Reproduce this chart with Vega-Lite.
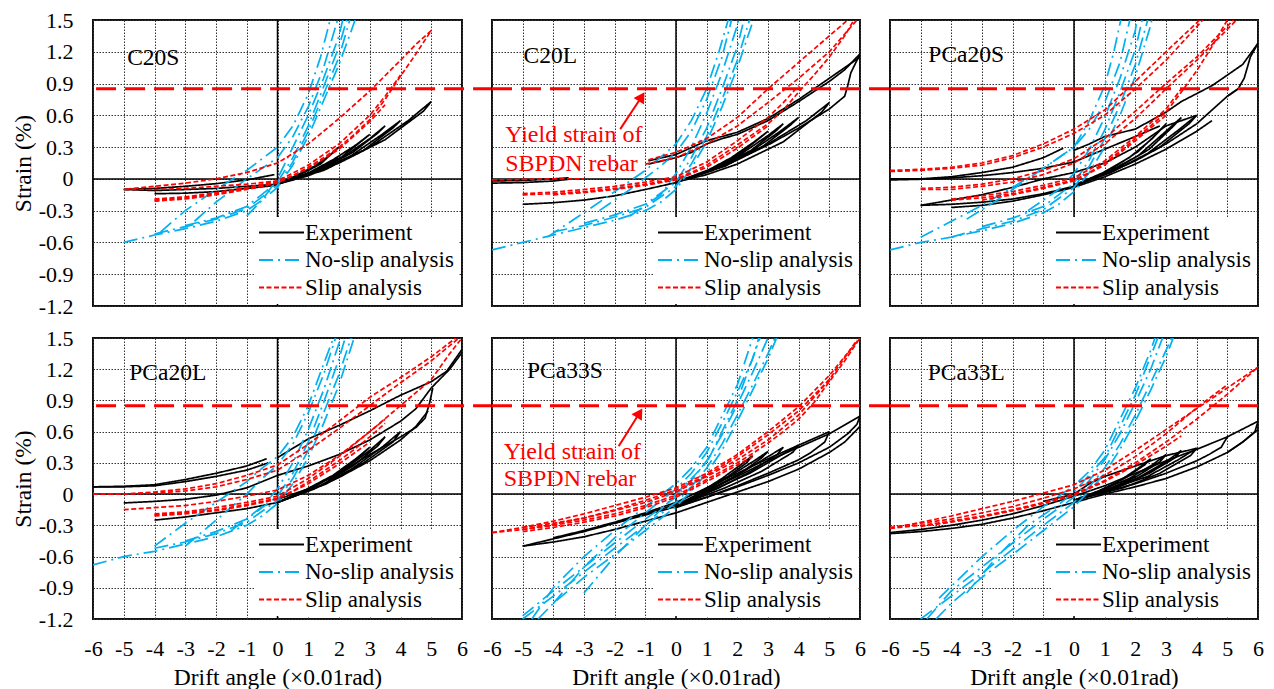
{
"$schema":"https://vega.github.io/schema/vega-lite/v6.json",
"background":"white",
"padding":{"left":10,"top":8,"right":0,"bottom":0},
"spacing":8,
"config":{
"font":"Liberation Serif",
"view":{"stroke":"#111111","strokeWidth":2},
"style":{"guide-label":{"font":"Liberation Serif"},"guide-title":{"font":"Liberation Serif"}},
"axis":{"domain":false,"ticks":false,"tickSize":0,"grid":true,"gridColor":"#333333","gridDash":[1.5,1.5],"gridWidth":1,"labelFont":"Liberation Serif","labelFontSize":22,"labelColor":"#000000","labelOverlap":false,"labelFlush":false,"titleFont":"Liberation Serif","titleFontSize":23.5,"titleFontWeight":"normal","titleColor":"#000000"},
"axisX":{"labelPadding":19,"titlePadding":6,"labelExpr":"(datum.value < 0 ? '-' : '') + format(abs(datum.value), 'd')"},
"axisY":{"labelPadding":20,"titlePadding":3,"labelExpr":"datum.value == 0 ? '0' : (datum.value < 0 ? '-' : '') + format(abs(datum.value), '.1f')"},
"legend":{"symbolType":"M-5,0H5","symbolSize":81,"symbolStrokeWidth":2,"symbolOffset":11,"labelOffset":12,"labelFont":"Liberation Serif","labelFontSize":23,"labelColor":"#000000","fillColor":"#FFFFFF","padding":4,"rowPadding":3.5,"labelLimit":220}
},
"datasets":{
"C20S":[
{"s":"E","c":1,"x":-5,"y":-0.1},{"s":"E","c":1,"x":-4,"y":-0.09},{"s":"E","c":1,"x":-3,"y":-0.07},{"s":"E","c":1,"x":-2,"y":-0.045},{"s":"E","c":1,"x":-1,"y":-0.01},{"s":"E","c":1,"x":-0.1,"y":0.04},
{"s":"E","c":2,"x":-5,"y":-0.1},{"s":"E","c":2,"x":-4,"y":-0.11},{"s":"E","c":2,"x":-3,"y":-0.1},{"s":"E","c":2,"x":-2,"y":-0.09},{"s":"E","c":2,"x":-1,"y":-0.07},{"s":"E","c":2,"x":0,"y":-0.05},
{"s":"E","c":3,"x":-4,"y":-0.14},{"s":"E","c":3,"x":-3,"y":-0.135},{"s":"E","c":3,"x":-2,"y":-0.12},{"s":"E","c":3,"x":-1,"y":-0.09},{"s":"E","c":3,"x":0,"y":-0.06},
{"s":"E","c":4,"x":0,"y":-0.05},{"s":"E","c":4,"x":1.5,"y":0.08},{"s":"E","c":4,"x":3,"y":0.3},{"s":"E","c":4,"x":4.25,"y":0.55},{"s":"E","c":4,"x":5,"y":0.73},{"s":"E","c":4,"x":4.75,"y":0.64},{"s":"E","c":4,"x":3.5,"y":0.37},{"s":"E","c":4,"x":2,"y":0.15},{"s":"E","c":4,"x":1,"y":0.03},{"s":"E","c":4,"x":0,"y":-0.05},
{"s":"E","c":5,"x":0,"y":-0.05},{"s":"E","c":5,"x":1.2,"y":0.06},{"s":"E","c":5,"x":2.4,"y":0.22},{"s":"E","c":5,"x":3.4,"y":0.42},{"s":"E","c":5,"x":4,"y":0.55},{"s":"E","c":5,"x":3.75,"y":0.48},{"s":"E","c":5,"x":2.8,"y":0.27},{"s":"E","c":5,"x":1.6,"y":0.1},{"s":"E","c":5,"x":0,"y":-0.05},
{"s":"E","c":6,"x":0,"y":-0.05},{"s":"E","c":6,"x":1,"y":0.05},{"s":"E","c":6,"x":2.1,"y":0.2},{"s":"E","c":6,"x":3,"y":0.38},{"s":"E","c":6,"x":3.5,"y":0.5},{"s":"E","c":6,"x":3.25,"y":0.43},{"s":"E","c":6,"x":2.45,"y":0.25},{"s":"E","c":6,"x":1.4,"y":0.09},{"s":"E","c":6,"x":0,"y":-0.05},
{"s":"E","c":7,"x":0,"y":-0.05},{"s":"E","c":7,"x":0.9,"y":0.04},{"s":"E","c":7,"x":1.8,"y":0.18},{"s":"E","c":7,"x":2.55,"y":0.32},{"s":"E","c":7,"x":3,"y":0.42},{"s":"E","c":7,"x":2.75,"y":0.36},{"s":"E","c":7,"x":2.1,"y":0.21},{"s":"E","c":7,"x":1.2,"y":0.08},{"s":"E","c":7,"x":0,"y":-0.05},
{"s":"E","c":8,"x":0,"y":-0.05},{"s":"E","c":8,"x":0.6,"y":0.03},{"s":"E","c":8,"x":1.2,"y":0.12},{"s":"E","c":8,"x":1.7,"y":0.22},{"s":"E","c":8,"x":2,"y":0.3},{"s":"E","c":8,"x":1.8,"y":0.25},{"s":"E","c":8,"x":1.4,"y":0.14},{"s":"E","c":8,"x":0.8,"y":0.05},{"s":"E","c":8,"x":0,"y":-0.05},
{"s":"N","c":1,"x":-5,"y":-0.6},{"s":"N","c":1,"x":-4,"y":-0.53},{"s":"N","c":1,"x":-3,"y":-0.47},{"s":"N","c":1,"x":-2,"y":-0.4},{"s":"N","c":1,"x":-1,"y":-0.3},{"s":"N","c":1,"x":-0.5,"y":-0.2},{"s":"N","c":1,"x":0,"y":-0.08},{"s":"N","c":1,"x":0.5,"y":0.13},{"s":"N","c":1,"x":1,"y":0.4},{"s":"N","c":1,"x":1.5,"y":0.74},{"s":"N","c":1,"x":2,"y":1.08},{"s":"N","c":1,"x":2.5,"y":1.48},{"s":"N","c":1,"x":2.6,"y":1.6},
{"s":"N","c":2,"x":-4,"y":-0.52},{"s":"N","c":2,"x":-3,"y":-0.45},{"s":"N","c":2,"x":-2,"y":-0.38},{"s":"N","c":2,"x":-1,"y":-0.28},{"s":"N","c":2,"x":0,"y":-0.06},{"s":"N","c":2,"x":0.5,"y":0.16},{"s":"N","c":2,"x":1,"y":0.45},{"s":"N","c":2,"x":1.5,"y":0.8},{"s":"N","c":2,"x":2,"y":1.15},{"s":"N","c":2,"x":2.45,"y":1.6},
{"s":"N","c":3,"x":-3,"y":-0.44},{"s":"N","c":3,"x":-2,"y":-0.37},{"s":"N","c":3,"x":-1,"y":-0.26},{"s":"N","c":3,"x":0,"y":-0.03},{"s":"N","c":3,"x":0.5,"y":0.2},{"s":"N","c":3,"x":1,"y":0.5},{"s":"N","c":3,"x":1.5,"y":0.87},{"s":"N","c":3,"x":2,"y":1.25},{"s":"N","c":3,"x":2.35,"y":1.6},
{"s":"N","c":4,"x":-3.8,"y":-0.5},{"s":"N","c":4,"x":-3,"y":-0.3},{"s":"N","c":4,"x":-2,"y":-0.1},{"s":"N","c":4,"x":-1,"y":0.08},{"s":"N","c":4,"x":0,"y":0.3},{"s":"N","c":4,"x":0.5,"y":0.5},{"s":"N","c":4,"x":1,"y":0.8},{"s":"N","c":4,"x":1.4,"y":1.15},{"s":"N","c":4,"x":1.8,"y":1.6},
{"s":"N","c":5,"x":-2.7,"y":-0.4},{"s":"N","c":5,"x":-2,"y":-0.22},{"s":"N","c":5,"x":-1,"y":0},{"s":"N","c":5,"x":0,"y":0.2},{"s":"N","c":5,"x":0.5,"y":0.4},{"s":"N","c":5,"x":1,"y":0.68},{"s":"N","c":5,"x":1.5,"y":1.05},{"s":"N","c":5,"x":2.05,"y":1.6},
{"s":"N","c":6,"x":-1,"y":-0.35},{"s":"N","c":6,"x":-0.5,"y":-0.2},{"s":"N","c":6,"x":0,"y":0},{"s":"N","c":6,"x":0.5,"y":0.3},{"s":"N","c":6,"x":1,"y":0.6},{"s":"N","c":6,"x":1.5,"y":0.95},{"s":"N","c":6,"x":2,"y":1.35},{"s":"N","c":6,"x":2.2,"y":1.6},
{"s":"S","c":1,"x":-4,"y":-0.2},{"s":"S","c":1,"x":-3,"y":-0.18},{"s":"S","c":1,"x":-2,"y":-0.14},{"s":"S","c":1,"x":-1,"y":-0.09},{"s":"S","c":1,"x":0,"y":-0.03},{"s":"S","c":1,"x":0.5,"y":0.03},{"s":"S","c":1,"x":1,"y":0.11},{"s":"S","c":1,"x":1.5,"y":0.2},{"s":"S","c":1,"x":2,"y":0.3},{"s":"S","c":1,"x":2.5,"y":0.42},{"s":"S","c":1,"x":3,"y":0.56},{"s":"S","c":1,"x":3.5,"y":0.75},{"s":"S","c":1,"x":4,"y":0.97},{"s":"S","c":1,"x":4.5,"y":1.18},{"s":"S","c":1,"x":5,"y":1.4},
{"s":"S","c":2,"x":-4,"y":-0.19},{"s":"S","c":2,"x":-3,"y":-0.17},{"s":"S","c":2,"x":-2,"y":-0.13},{"s":"S","c":2,"x":-1,"y":-0.08},{"s":"S","c":2,"x":0,"y":-0.02},{"s":"S","c":2,"x":1,"y":0.13},{"s":"S","c":2,"x":2,"y":0.33},{"s":"S","c":2,"x":3,"y":0.6},{"s":"S","c":2,"x":3.5,"y":0.78},{"s":"S","c":2,"x":4,"y":0.98},
{"s":"S","c":3,"x":-4,"y":-0.21},{"s":"S","c":3,"x":-3,"y":-0.19},{"s":"S","c":3,"x":-2,"y":-0.15},{"s":"S","c":3,"x":-1,"y":-0.1},{"s":"S","c":3,"x":0,"y":-0.04},{"s":"S","c":3,"x":1,"y":0.1},{"s":"S","c":3,"x":2,"y":0.28},{"s":"S","c":3,"x":3,"y":0.54},{"s":"S","c":3,"x":3.5,"y":0.7},
{"s":"S","c":4,"x":5,"y":1.4},{"s":"S","c":4,"x":4.5,"y":1.27},{"s":"S","c":4,"x":4,"y":1.12},{"s":"S","c":4,"x":3,"y":0.83},{"s":"S","c":4,"x":2,"y":0.57},{"s":"S","c":4,"x":1,"y":0.33},{"s":"S","c":4,"x":0,"y":0.15},{"s":"S","c":4,"x":-1,"y":0.06},{"s":"S","c":4,"x":-2,"y":0},{"s":"S","c":4,"x":-3,"y":-0.04},{"s":"S","c":4,"x":-4,"y":-0.07},{"s":"S","c":4,"x":-5,"y":-0.1},
{"s":"S","c":5,"x":-5,"y":-0.1},{"s":"S","c":5,"x":-4,"y":-0.1},{"s":"S","c":5,"x":-3,"y":-0.09},{"s":"S","c":5,"x":-2,"y":-0.07},{"s":"S","c":5,"x":-1,"y":-0.05},{"s":"S","c":5,"x":0,"y":-0.02}
],
"C20L":[
{"s":"E","c":1,"x":-6,"y":-0.04},{"s":"E","c":1,"x":-5,"y":-0.035},{"s":"E","c":1,"x":-4,"y":-0.02},{"s":"E","c":1,"x":-3.4,"y":0},
{"s":"E","c":2,"x":-6,"y":-0.02},{"s":"E","c":2,"x":-5,"y":-0.015},{"s":"E","c":2,"x":-4,"y":0},{"s":"E","c":2,"x":-3.5,"y":0.01},
{"s":"E","c":3,"x":-5,"y":-0.24},{"s":"E","c":3,"x":-4,"y":-0.225},{"s":"E","c":3,"x":-3,"y":-0.2},{"s":"E","c":3,"x":-2,"y":-0.16},{"s":"E","c":3,"x":-1,"y":-0.1},{"s":"E","c":3,"x":0,"y":-0.035},{"s":"E","c":3,"x":1,"y":0.06},{"s":"E","c":3,"x":2,"y":0.18},{"s":"E","c":3,"x":3,"y":0.32},{"s":"E","c":3,"x":4,"y":0.48},{"s":"E","c":3,"x":5,"y":0.66},{"s":"E","c":3,"x":5.5,"y":0.78},{"s":"E","c":3,"x":5.6,"y":0.88},{"s":"E","c":3,"x":5.7,"y":1.0},{"s":"E","c":3,"x":6,"y":1.18},
{"s":"E","c":4,"x":-0.9,"y":0.14},{"s":"E","c":4,"x":0,"y":0.2},{"s":"E","c":4,"x":0.5,"y":0.25},{"s":"E","c":4,"x":1,"y":0.33},{"s":"E","c":4,"x":1.5,"y":0.38},{"s":"E","c":4,"x":2,"y":0.42},{"s":"E","c":4,"x":3,"y":0.55},{"s":"E","c":4,"x":4,"y":0.73},{"s":"E","c":4,"x":5,"y":0.92},{"s":"E","c":4,"x":5.5,"y":1.03},{"s":"E","c":4,"x":6,"y":1.18},
{"s":"E","c":5,"x":-0.9,"y":0.17},{"s":"E","c":5,"x":0,"y":0.23},{"s":"E","c":5,"x":1,"y":0.36},{"s":"E","c":5,"x":2,"y":0.44},{"s":"E","c":5,"x":3,"y":0.57},{"s":"E","c":5,"x":4,"y":0.75},{"s":"E","c":5,"x":5,"y":0.95},{"s":"E","c":5,"x":6,"y":1.15},
{"s":"E","c":6,"x":0,"y":-0.03},{"s":"E","c":6,"x":1.5,"y":0.12},{"s":"E","c":6,"x":3,"y":0.33},{"s":"E","c":6,"x":4.25,"y":0.55},{"s":"E","c":6,"x":5,"y":0.72},{"s":"E","c":6,"x":4.75,"y":0.63},{"s":"E","c":6,"x":3.5,"y":0.35},{"s":"E","c":6,"x":2,"y":0.14},{"s":"E","c":6,"x":1,"y":0.04},{"s":"E","c":6,"x":0,"y":-0.03},
{"s":"E","c":7,"x":0,"y":-0.03},{"s":"E","c":7,"x":1.2,"y":0.08},{"s":"E","c":7,"x":2.4,"y":0.25},{"s":"E","c":7,"x":3.4,"y":0.45},{"s":"E","c":7,"x":4,"y":0.58},{"s":"E","c":7,"x":3.7,"y":0.5},{"s":"E","c":7,"x":2.8,"y":0.3},{"s":"E","c":7,"x":1.6,"y":0.12},{"s":"E","c":7,"x":0,"y":-0.03},
{"s":"E","c":8,"x":0,"y":-0.03},{"s":"E","c":8,"x":1,"y":0.07},{"s":"E","c":8,"x":2.1,"y":0.23},{"s":"E","c":8,"x":3,"y":0.41},{"s":"E","c":8,"x":3.5,"y":0.52},{"s":"E","c":8,"x":3.25,"y":0.45},{"s":"E","c":8,"x":2.45,"y":0.27},{"s":"E","c":8,"x":1.4,"y":0.11},{"s":"E","c":8,"x":0,"y":-0.03},
{"s":"E","c":9,"x":0,"y":-0.03},{"s":"E","c":9,"x":0.9,"y":0.06},{"s":"E","c":9,"x":1.8,"y":0.2},{"s":"E","c":9,"x":2.55,"y":0.35},{"s":"E","c":9,"x":3,"y":0.45},{"s":"E","c":9,"x":2.75,"y":0.39},{"s":"E","c":9,"x":2.1,"y":0.24},{"s":"E","c":9,"x":1.2,"y":0.1},{"s":"E","c":9,"x":0,"y":-0.03},
{"s":"N","c":1,"x":-6,"y":-0.67},{"s":"N","c":1,"x":-5,"y":-0.6},{"s":"N","c":1,"x":-4,"y":-0.53},{"s":"N","c":1,"x":-3,"y":-0.46},{"s":"N","c":1,"x":-2,"y":-0.39},{"s":"N","c":1,"x":-1,"y":-0.3},{"s":"N","c":1,"x":-0.5,"y":-0.22},{"s":"N","c":1,"x":0,"y":-0.1},{"s":"N","c":1,"x":0.5,"y":0.1},{"s":"N","c":1,"x":1,"y":0.35},{"s":"N","c":1,"x":1.5,"y":0.68},{"s":"N","c":1,"x":2,"y":1.05},{"s":"N","c":1,"x":2.5,"y":1.48},{"s":"N","c":1,"x":2.6,"y":1.6},
{"s":"N","c":2,"x":-4,"y":-0.5},{"s":"N","c":2,"x":-3,"y":-0.44},{"s":"N","c":2,"x":-2,"y":-0.36},{"s":"N","c":2,"x":-1,"y":-0.27},{"s":"N","c":2,"x":0,"y":-0.07},{"s":"N","c":2,"x":0.5,"y":0.14},{"s":"N","c":2,"x":1,"y":0.4},{"s":"N","c":2,"x":1.5,"y":0.75},{"s":"N","c":2,"x":2,"y":1.12},{"s":"N","c":2,"x":2.5,"y":1.6},
{"s":"N","c":3,"x":-3,"y":-0.42},{"s":"N","c":3,"x":-2,"y":-0.34},{"s":"N","c":3,"x":-1,"y":-0.24},{"s":"N","c":3,"x":0,"y":-0.03},{"s":"N","c":3,"x":0.5,"y":0.2},{"s":"N","c":3,"x":1,"y":0.48},{"s":"N","c":3,"x":1.5,"y":0.85},{"s":"N","c":3,"x":2,"y":1.25},{"s":"N","c":3,"x":2.3,"y":1.6},
{"s":"N","c":4,"x":-4.2,"y":-0.55},{"s":"N","c":4,"x":-3,"y":-0.32},{"s":"N","c":4,"x":-2,"y":-0.12},{"s":"N","c":4,"x":-1,"y":0.08},{"s":"N","c":4,"x":0,"y":0.33},{"s":"N","c":4,"x":0.5,"y":0.55},{"s":"N","c":4,"x":1,"y":0.85},{"s":"N","c":4,"x":1.4,"y":1.2},{"s":"N","c":4,"x":1.8,"y":1.6},
{"s":"N","c":5,"x":-2.5,"y":-0.3},{"s":"N","c":5,"x":-1.5,"y":-0.1},{"s":"N","c":5,"x":-0.5,"y":0.12},{"s":"N","c":5,"x":0,"y":0.25},{"s":"N","c":5,"x":0.5,"y":0.45},{"s":"N","c":5,"x":1,"y":0.75},{"s":"N","c":5,"x":1.5,"y":1.15},{"s":"N","c":5,"x":1.9,"y":1.6},
{"s":"N","c":6,"x":-1.5,"y":-0.35},{"s":"N","c":6,"x":-0.5,"y":-0.15},{"s":"N","c":6,"x":0,"y":0.05},{"s":"N","c":6,"x":0.5,"y":0.3},{"s":"N","c":6,"x":1,"y":0.62},{"s":"N","c":6,"x":1.5,"y":1.0},{"s":"N","c":6,"x":2,"y":1.45},{"s":"N","c":6,"x":2.1,"y":1.6},
{"s":"S","c":1,"x":-5,"y":-0.15},{"s":"S","c":1,"x":-4,"y":-0.14},{"s":"S","c":1,"x":-3,"y":-0.12},{"s":"S","c":1,"x":-2,"y":-0.09},{"s":"S","c":1,"x":-1,"y":-0.05},{"s":"S","c":1,"x":0,"y":0},{"s":"S","c":1,"x":0.5,"y":0.06},{"s":"S","c":1,"x":1,"y":0.13},{"s":"S","c":1,"x":2,"y":0.32},{"s":"S","c":1,"x":3,"y":0.52},{"s":"S","c":1,"x":3.5,"y":0.65},{"s":"S","c":1,"x":4,"y":0.82},{"s":"S","c":1,"x":4.5,"y":0.98},{"s":"S","c":1,"x":5,"y":1.15},{"s":"S","c":1,"x":5.5,"y":1.35},{"s":"S","c":1,"x":5.8,"y":1.5},
{"s":"S","c":2,"x":-5,"y":-0.14},{"s":"S","c":2,"x":-4,"y":-0.125},{"s":"S","c":2,"x":-3,"y":-0.1},{"s":"S","c":2,"x":-2,"y":-0.07},{"s":"S","c":2,"x":-1,"y":-0.03},{"s":"S","c":2,"x":0,"y":0.02},{"s":"S","c":2,"x":1,"y":0.16},{"s":"S","c":2,"x":2,"y":0.36},{"s":"S","c":2,"x":3,"y":0.58},{"s":"S","c":2,"x":3.5,"y":0.72},{"s":"S","c":2,"x":4,"y":0.88},
{"s":"S","c":3,"x":-4,"y":-0.15},{"s":"S","c":3,"x":-3,"y":-0.13},{"s":"S","c":3,"x":-2,"y":-0.1},{"s":"S","c":3,"x":-1,"y":-0.06},{"s":"S","c":3,"x":0,"y":-0.01},{"s":"S","c":3,"x":1,"y":0.11},{"s":"S","c":3,"x":2,"y":0.29},{"s":"S","c":3,"x":3,"y":0.5},
{"s":"S","c":4,"x":-0.9,"y":0.18},{"s":"S","c":4,"x":0,"y":0.25},{"s":"S","c":4,"x":1,"y":0.38},{"s":"S","c":4,"x":2,"y":0.58},{"s":"S","c":4,"x":3,"y":0.85},{"s":"S","c":4,"x":4,"y":1.1},{"s":"S","c":4,"x":5,"y":1.35},{"s":"S","c":4,"x":5.6,"y":1.5},
{"s":"S","c":5,"x":-1,"y":0.14},{"s":"S","c":5,"x":0,"y":0.2},{"s":"S","c":5,"x":1,"y":0.33},{"s":"S","c":5,"x":2,"y":0.5},{"s":"S","c":5,"x":3,"y":0.72},{"s":"S","c":5,"x":4,"y":0.95},{"s":"S","c":5,"x":5,"y":1.2},{"s":"S","c":5,"x":5.9,"y":1.5},
{"s":"S","c":6,"x":-6,"y":-0.01},{"s":"S","c":6,"x":-5,"y":-0.005},{"s":"S","c":6,"x":-4,"y":0},{"s":"S","c":6,"x":-3,"y":0}
],
"PCa20S":[
{"s":"E","c":1,"x":-6,"y":0},{"s":"E","c":1,"x":-5,"y":0},{"s":"E","c":1,"x":-4,"y":0.02},{"s":"E","c":1,"x":-3,"y":0.06},{"s":"E","c":1,"x":-2,"y":0.11},{"s":"E","c":1,"x":-1,"y":0.2},{"s":"E","c":1,"x":-0.35,"y":0.29},
{"s":"E","c":2,"x":-6,"y":-0.01},{"s":"E","c":2,"x":-4.5,"y":0},{"s":"E","c":2,"x":-3,"y":0.03},{"s":"E","c":2,"x":-2,"y":0.06},{"s":"E","c":2,"x":-1,"y":0.1},{"s":"E","c":2,"x":0,"y":0.16},{"s":"E","c":2,"x":1,"y":0.28},{"s":"E","c":2,"x":2,"y":0.4},{"s":"E","c":2,"x":2.8,"y":0.5},
{"s":"E","c":3,"x":0,"y":0.27},{"s":"E","c":3,"x":0.5,"y":0.33},{"s":"E","c":3,"x":1,"y":0.4},{"s":"E","c":3,"x":2,"y":0.47},{"s":"E","c":3,"x":3,"y":0.63},{"s":"E","c":3,"x":3.5,"y":0.73},{"s":"E","c":3,"x":4.5,"y":0.88},{"s":"E","c":3,"x":5.5,"y":1.08},{"s":"E","c":3,"x":6,"y":1.28},
{"s":"E","c":4,"x":6,"y":1.28},{"s":"E","c":4,"x":5.75,"y":1.15},{"s":"E","c":4,"x":5.55,"y":0.95},{"s":"E","c":4,"x":5.35,"y":0.85},{"s":"E","c":4,"x":5,"y":0.78},
{"s":"E","c":5,"x":-5,"y":-0.25},{"s":"E","c":5,"x":-4,"y":-0.24},{"s":"E","c":5,"x":-3,"y":-0.22},{"s":"E","c":5,"x":-2,"y":-0.19},{"s":"E","c":5,"x":-1,"y":-0.14},{"s":"E","c":5,"x":0,"y":-0.07},{"s":"E","c":5,"x":1,"y":0.04},{"s":"E","c":5,"x":2,"y":0.17},{"s":"E","c":5,"x":3,"y":0.33},{"s":"E","c":5,"x":4,"y":0.52},{"s":"E","c":5,"x":5,"y":0.78},{"s":"E","c":5,"x":5.35,"y":0.85},
{"s":"E","c":6,"x":-4,"y":-0.27},{"s":"E","c":6,"x":-3,"y":-0.25},{"s":"E","c":6,"x":-2,"y":-0.21},{"s":"E","c":6,"x":-1,"y":-0.15},{"s":"E","c":6,"x":0,"y":-0.08},{"s":"E","c":6,"x":1,"y":0.02},{"s":"E","c":6,"x":2,"y":0.14},{"s":"E","c":6,"x":3,"y":0.28},{"s":"E","c":6,"x":4,"y":0.45},{"s":"E","c":6,"x":4.5,"y":0.55},
{"s":"E","c":7,"x":-5,"y":-0.25},{"s":"E","c":7,"x":-4,"y":-0.2},{"s":"E","c":7,"x":-3,"y":-0.15},{"s":"E","c":7,"x":-2,"y":-0.08},{"s":"E","c":7,"x":-1,"y":0},{"s":"E","c":7,"x":0,"y":0.06},{"s":"E","c":7,"x":1,"y":0.15},{"s":"E","c":7,"x":2,"y":0.3},{"s":"E","c":7,"x":3,"y":0.5},{"s":"E","c":7,"x":4,"y":0.6},
{"s":"E","c":8,"x":0,"y":-0.06},{"s":"E","c":8,"x":1.2,"y":0.06},{"s":"E","c":8,"x":2.4,"y":0.24},{"s":"E","c":8,"x":3.4,"y":0.46},{"s":"E","c":8,"x":4,"y":0.6},{"s":"E","c":8,"x":3.75,"y":0.52},{"s":"E","c":8,"x":2.8,"y":0.3},{"s":"E","c":8,"x":1.6,"y":0.12},{"s":"E","c":8,"x":0,"y":-0.06},
{"s":"E","c":9,"x":0,"y":-0.06},{"s":"E","c":9,"x":1,"y":0.05},{"s":"E","c":9,"x":2.1,"y":0.22},{"s":"E","c":9,"x":3,"y":0.45},{"s":"E","c":9,"x":3.5,"y":0.58},{"s":"E","c":9,"x":3.25,"y":0.5},{"s":"E","c":9,"x":2.45,"y":0.28},{"s":"E","c":9,"x":1.4,"y":0.1},{"s":"E","c":9,"x":0,"y":-0.06},
{"s":"E","c":10,"x":0,"y":-0.06},{"s":"E","c":10,"x":0.9,"y":0.05},{"s":"E","c":10,"x":1.8,"y":0.2},{"s":"E","c":10,"x":2.55,"y":0.38},{"s":"E","c":10,"x":3,"y":0.52},{"s":"E","c":10,"x":2.75,"y":0.44},{"s":"E","c":10,"x":2.1,"y":0.26},{"s":"E","c":10,"x":1.2,"y":0.09},{"s":"E","c":10,"x":0,"y":-0.06},
{"s":"N","c":1,"x":-6,"y":-0.67},{"s":"N","c":1,"x":-5,"y":-0.6},{"s":"N","c":1,"x":-4,"y":-0.55},{"s":"N","c":1,"x":-3,"y":-0.49},{"s":"N","c":1,"x":-2,"y":-0.42},{"s":"N","c":1,"x":-1,"y":-0.32},{"s":"N","c":1,"x":-0.5,"y":-0.24},{"s":"N","c":1,"x":0,"y":-0.12},{"s":"N","c":1,"x":0.5,"y":0.06},{"s":"N","c":1,"x":1,"y":0.3},{"s":"N","c":1,"x":1.5,"y":0.6},{"s":"N","c":1,"x":2,"y":0.97},{"s":"N","c":1,"x":2.5,"y":1.45},{"s":"N","c":1,"x":2.6,"y":1.6},
{"s":"N","c":2,"x":-4,"y":-0.55},{"s":"N","c":2,"x":-3,"y":-0.47},{"s":"N","c":2,"x":-2,"y":-0.4},{"s":"N","c":2,"x":-1,"y":-0.29},{"s":"N","c":2,"x":0,"y":-0.08},{"s":"N","c":2,"x":0.5,"y":0.12},{"s":"N","c":2,"x":1,"y":0.38},{"s":"N","c":2,"x":1.5,"y":0.7},{"s":"N","c":2,"x":2,"y":1.08},{"s":"N","c":2,"x":2.5,"y":1.6},
{"s":"N","c":3,"x":-3,"y":-0.45},{"s":"N","c":3,"x":-2,"y":-0.37},{"s":"N","c":3,"x":-1,"y":-0.26},{"s":"N","c":3,"x":0,"y":-0.04},{"s":"N","c":3,"x":0.5,"y":0.18},{"s":"N","c":3,"x":1,"y":0.46},{"s":"N","c":3,"x":1.5,"y":0.82},{"s":"N","c":3,"x":2,"y":1.22},{"s":"N","c":3,"x":2.3,"y":1.6},
{"s":"N","c":4,"x":-5,"y":-0.55},{"s":"N","c":4,"x":-4,"y":-0.4},{"s":"N","c":4,"x":-3,"y":-0.25},{"s":"N","c":4,"x":-2,"y":-0.08},{"s":"N","c":4,"x":-1,"y":0.1},{"s":"N","c":4,"x":0,"y":0.3},{"s":"N","c":4,"x":0.5,"y":0.47},{"s":"N","c":4,"x":1,"y":0.72},{"s":"N","c":4,"x":1.5,"y":1.1},{"s":"N","c":4,"x":1.9,"y":1.6},
{"s":"N","c":5,"x":-3.5,"y":-0.38},{"s":"N","c":5,"x":-2.5,"y":-0.2},{"s":"N","c":5,"x":-1.5,"y":0},{"s":"N","c":5,"x":-0.5,"y":0.2},{"s":"N","c":5,"x":0,"y":0.3},{"s":"N","c":5,"x":0.5,"y":0.55},{"s":"N","c":5,"x":1,"y":0.88},{"s":"N","c":5,"x":1.3,"y":1.2},{"s":"N","c":5,"x":1.6,"y":1.6},
{"s":"N","c":6,"x":-1.5,"y":-0.3},{"s":"N","c":6,"x":-0.5,"y":-0.1},{"s":"N","c":6,"x":0,"y":0.05},{"s":"N","c":6,"x":0.5,"y":0.28},{"s":"N","c":6,"x":1,"y":0.58},{"s":"N","c":6,"x":1.5,"y":0.95},{"s":"N","c":6,"x":2,"y":1.4},{"s":"N","c":6,"x":2.1,"y":1.6},
{"s":"S","c":1,"x":-6,"y":0.08},{"s":"S","c":1,"x":-5,"y":0.09},{"s":"S","c":1,"x":-4,"y":0.11},{"s":"S","c":1,"x":-3,"y":0.15},{"s":"S","c":1,"x":-2,"y":0.22},{"s":"S","c":1,"x":-1,"y":0.33},{"s":"S","c":1,"x":0,"y":0.47},{"s":"S","c":1,"x":1,"y":0.65},{"s":"S","c":1,"x":2,"y":0.92},{"s":"S","c":1,"x":3,"y":1.2},{"s":"S","c":1,"x":4.1,"y":1.5},
{"s":"S","c":2,"x":-6,"y":0.07},{"s":"S","c":2,"x":-5,"y":0.08},{"s":"S","c":2,"x":-4,"y":0.1},{"s":"S","c":2,"x":-3,"y":0.13},{"s":"S","c":2,"x":-2,"y":0.2},{"s":"S","c":2,"x":-1,"y":0.3},{"s":"S","c":2,"x":0,"y":0.43},{"s":"S","c":2,"x":1,"y":0.6},{"s":"S","c":2,"x":2,"y":0.85},{"s":"S","c":2,"x":3,"y":1.12},{"s":"S","c":2,"x":4.2,"y":1.5},
{"s":"S","c":3,"x":-5,"y":-0.09},{"s":"S","c":3,"x":-4,"y":-0.08},{"s":"S","c":3,"x":-3,"y":-0.05},{"s":"S","c":3,"x":-2,"y":0},{"s":"S","c":3,"x":-1,"y":0.08},{"s":"S","c":3,"x":0,"y":0.19},{"s":"S","c":3,"x":1,"y":0.38},{"s":"S","c":3,"x":2,"y":0.64},{"s":"S","c":3,"x":3,"y":0.9},{"s":"S","c":3,"x":4,"y":1.15},{"s":"S","c":3,"x":5.2,"y":1.5},
{"s":"S","c":4,"x":-5,"y":-0.1},{"s":"S","c":4,"x":-4,"y":-0.1},{"s":"S","c":4,"x":-3,"y":-0.07},{"s":"S","c":4,"x":-2,"y":-0.03},{"s":"S","c":4,"x":-1,"y":0.04},{"s":"S","c":4,"x":0,"y":0.15},{"s":"S","c":4,"x":1,"y":0.33},{"s":"S","c":4,"x":2,"y":0.57},{"s":"S","c":4,"x":3,"y":0.85},{"s":"S","c":4,"x":4,"y":1.12},{"s":"S","c":4,"x":5.3,"y":1.5},
{"s":"S","c":5,"x":-4,"y":-0.2},{"s":"S","c":5,"x":-3,"y":-0.18},{"s":"S","c":5,"x":-2,"y":-0.14},{"s":"S","c":5,"x":-1,"y":-0.08},{"s":"S","c":5,"x":0,"y":-0.01},{"s":"S","c":5,"x":0.5,"y":0.06},{"s":"S","c":5,"x":1,"y":0.15},{"s":"S","c":5,"x":1.5,"y":0.26},{"s":"S","c":5,"x":2,"y":0.38},{"s":"S","c":5,"x":2.5,"y":0.5},{"s":"S","c":5,"x":3,"y":0.63},{"s":"S","c":5,"x":3.5,"y":0.82},{"s":"S","c":5,"x":4,"y":1.02},{"s":"S","c":5,"x":4.5,"y":1.25},{"s":"S","c":5,"x":5,"y":1.5},
{"s":"S","c":6,"x":-4,"y":-0.19},{"s":"S","c":6,"x":-3,"y":-0.16},{"s":"S","c":6,"x":-2,"y":-0.12},{"s":"S","c":6,"x":-1,"y":-0.06},{"s":"S","c":6,"x":0,"y":0.01},{"s":"S","c":6,"x":1,"y":0.17},{"s":"S","c":6,"x":2,"y":0.4},{"s":"S","c":6,"x":3,"y":0.66},{"s":"S","c":6,"x":3.5,"y":0.85},
{"s":"S","c":7,"x":-3,"y":-0.2},{"s":"S","c":7,"x":-2,"y":-0.15},{"s":"S","c":7,"x":-1,"y":-0.09},{"s":"S","c":7,"x":0,"y":-0.02},{"s":"S","c":7,"x":1,"y":0.13},{"s":"S","c":7,"x":2,"y":0.36},{"s":"S","c":7,"x":3,"y":0.6}
],
"PCa20L":[
{"s":"E","c":1,"x":-6,"y":0.07},{"s":"E","c":1,"x":-5,"y":0.075},{"s":"E","c":1,"x":-4,"y":0.09},{"s":"E","c":1,"x":-3,"y":0.14},{"s":"E","c":1,"x":-2,"y":0.2},{"s":"E","c":1,"x":-1,"y":0.27},{"s":"E","c":1,"x":-0.35,"y":0.34},
{"s":"E","c":2,"x":-6,"y":0.07},{"s":"E","c":2,"x":-5,"y":0.07},{"s":"E","c":2,"x":-4,"y":0.08},{"s":"E","c":2,"x":-3,"y":0.12},{"s":"E","c":2,"x":-2,"y":0.17},{"s":"E","c":2,"x":-1,"y":0.23},{"s":"E","c":2,"x":-0.3,"y":0.3},
{"s":"E","c":3,"x":0,"y":0.35},{"s":"E","c":3,"x":0.5,"y":0.44},{"s":"E","c":3,"x":1,"y":0.53},{"s":"E","c":3,"x":2,"y":0.66},{"s":"E","c":3,"x":3,"y":0.8},{"s":"E","c":3,"x":4,"y":0.95},{"s":"E","c":3,"x":5,"y":1.08},{"s":"E","c":3,"x":5.5,"y":1.18},{"s":"E","c":3,"x":6,"y":1.39},
{"s":"E","c":4,"x":6,"y":1.36},{"s":"E","c":4,"x":5.6,"y":1.2},{"s":"E","c":4,"x":5.2,"y":1.08},{"s":"E","c":4,"x":5,"y":1.02},
{"s":"E","c":5,"x":-5,"y":-0.085},{"s":"E","c":5,"x":-4,"y":-0.07},{"s":"E","c":5,"x":-3,"y":-0.05},{"s":"E","c":5,"x":-2,"y":-0.01},{"s":"E","c":5,"x":-1,"y":0.06},{"s":"E","c":5,"x":0,"y":0.18},{"s":"E","c":5,"x":1,"y":0.27},{"s":"E","c":5,"x":2,"y":0.38},{"s":"E","c":5,"x":3,"y":0.52},{"s":"E","c":5,"x":4,"y":0.7},{"s":"E","c":5,"x":4.5,"y":0.82},{"s":"E","c":5,"x":5,"y":1.02},
{"s":"E","c":6,"x":5.05,"y":1.02},{"s":"E","c":6,"x":4.95,"y":0.88},{"s":"E","c":6,"x":4.8,"y":0.73},{"s":"E","c":6,"x":4.5,"y":0.64},{"s":"E","c":6,"x":4,"y":0.55},{"s":"E","c":6,"x":3,"y":0.38},{"s":"E","c":6,"x":2,"y":0.2},{"s":"E","c":6,"x":1,"y":0.05},{"s":"E","c":6,"x":0,"y":-0.05},
{"s":"E","c":7,"x":-4,"y":-0.25},{"s":"E","c":7,"x":-3,"y":-0.22},{"s":"E","c":7,"x":-2,"y":-0.18},{"s":"E","c":7,"x":-1,"y":-0.14},{"s":"E","c":7,"x":0,"y":-0.08},{"s":"E","c":7,"x":1,"y":0.03},{"s":"E","c":7,"x":2,"y":0.16},{"s":"E","c":7,"x":3,"y":0.32},{"s":"E","c":7,"x":4,"y":0.52},{"s":"E","c":7,"x":4.5,"y":0.65},{"s":"E","c":7,"x":4.9,"y":0.8},
{"s":"E","c":8,"x":0,"y":-0.08},{"s":"E","c":8,"x":1.2,"y":0.05},{"s":"E","c":8,"x":2.4,"y":0.24},{"s":"E","c":8,"x":3.4,"y":0.45},{"s":"E","c":8,"x":4,"y":0.6},{"s":"E","c":8,"x":3.75,"y":0.5},{"s":"E","c":8,"x":2.8,"y":0.3},{"s":"E","c":8,"x":1.6,"y":0.1},{"s":"E","c":8,"x":0,"y":-0.08},
{"s":"E","c":9,"x":0,"y":-0.08},{"s":"E","c":9,"x":1,"y":0.04},{"s":"E","c":9,"x":2.1,"y":0.22},{"s":"E","c":9,"x":3,"y":0.42},{"s":"E","c":9,"x":3.5,"y":0.55},{"s":"E","c":9,"x":3.25,"y":0.46},{"s":"E","c":9,"x":2.45,"y":0.27},{"s":"E","c":9,"x":1.4,"y":0.08},{"s":"E","c":9,"x":0,"y":-0.08},
{"s":"E","c":10,"x":0,"y":-0.08},{"s":"E","c":10,"x":0.9,"y":0.04},{"s":"E","c":10,"x":1.8,"y":0.18},{"s":"E","c":10,"x":2.55,"y":0.34},{"s":"E","c":10,"x":3,"y":0.45},{"s":"E","c":10,"x":2.75,"y":0.38},{"s":"E","c":10,"x":2.1,"y":0.23},{"s":"E","c":10,"x":1.2,"y":0.07},{"s":"E","c":10,"x":0,"y":-0.08},
{"s":"N","c":1,"x":-6,"y":-0.68},{"s":"N","c":1,"x":-5,"y":-0.6},{"s":"N","c":1,"x":-4,"y":-0.55},{"s":"N","c":1,"x":-3,"y":-0.48},{"s":"N","c":1,"x":-2,"y":-0.41},{"s":"N","c":1,"x":-1,"y":-0.3},{"s":"N","c":1,"x":-0.5,"y":-0.21},{"s":"N","c":1,"x":0,"y":-0.09},{"s":"N","c":1,"x":0.5,"y":0.1},{"s":"N","c":1,"x":1,"y":0.35},{"s":"N","c":1,"x":1.5,"y":0.68},{"s":"N","c":1,"x":2,"y":1.05},{"s":"N","c":1,"x":2.6,"y":1.6},
{"s":"N","c":2,"x":-4,"y":-0.52},{"s":"N","c":2,"x":-3,"y":-0.46},{"s":"N","c":2,"x":-2,"y":-0.38},{"s":"N","c":2,"x":-1,"y":-0.27},{"s":"N","c":2,"x":0,"y":-0.06},{"s":"N","c":2,"x":0.5,"y":0.15},{"s":"N","c":2,"x":1,"y":0.42},{"s":"N","c":2,"x":1.5,"y":0.78},{"s":"N","c":2,"x":2,"y":1.15},{"s":"N","c":2,"x":2.5,"y":1.6},
{"s":"N","c":3,"x":-3,"y":-0.45},{"s":"N","c":3,"x":-2,"y":-0.36},{"s":"N","c":3,"x":-1,"y":-0.24},{"s":"N","c":3,"x":0,"y":-0.02},{"s":"N","c":3,"x":0.5,"y":0.2},{"s":"N","c":3,"x":1,"y":0.5},{"s":"N","c":3,"x":1.5,"y":0.88},{"s":"N","c":3,"x":2,"y":1.3},{"s":"N","c":3,"x":2.3,"y":1.6},
{"s":"N","c":4,"x":-4,"y":-0.5},{"s":"N","c":4,"x":-3,"y":-0.28},{"s":"N","c":4,"x":-2,"y":-0.08},{"s":"N","c":4,"x":-1,"y":0.12},{"s":"N","c":4,"x":-0.5,"y":0.25},{"s":"N","c":4,"x":0,"y":0.36},{"s":"N","c":4,"x":0.5,"y":0.55},{"s":"N","c":4,"x":1,"y":0.85},{"s":"N","c":4,"x":1.5,"y":1.25},{"s":"N","c":4,"x":1.95,"y":1.6},
{"s":"N","c":5,"x":-3,"y":-0.5},{"s":"N","c":5,"x":-2,"y":-0.25},{"s":"N","c":5,"x":-1,"y":0},{"s":"N","c":5,"x":-0.5,"y":0.15},{"s":"N","c":5,"x":0,"y":0.28},{"s":"N","c":5,"x":0.5,"y":0.48},{"s":"N","c":5,"x":1,"y":0.78},{"s":"N","c":5,"x":1.5,"y":1.15},{"s":"N","c":5,"x":2,"y":1.6},
{"s":"N","c":6,"x":-1.5,"y":-0.35},{"s":"N","c":6,"x":-0.5,"y":-0.12},{"s":"N","c":6,"x":0,"y":0.05},{"s":"N","c":6,"x":0.5,"y":0.3},{"s":"N","c":6,"x":1,"y":0.62},{"s":"N","c":6,"x":1.5,"y":1.0},{"s":"N","c":6,"x":2,"y":1.45},{"s":"N","c":6,"x":2.15,"y":1.6},
{"s":"S","c":1,"x":-6,"y":0},{"s":"S","c":1,"x":-5,"y":0},{"s":"S","c":1,"x":-4,"y":0.02},{"s":"S","c":1,"x":-3,"y":0.05},{"s":"S","c":1,"x":-2,"y":0.1},{"s":"S","c":1,"x":-1,"y":0.18},{"s":"S","c":1,"x":0,"y":0.28},{"s":"S","c":1,"x":1,"y":0.48},{"s":"S","c":1,"x":2,"y":0.7},{"s":"S","c":1,"x":3,"y":0.93},{"s":"S","c":1,"x":4,"y":1.12},{"s":"S","c":1,"x":5,"y":1.32},{"s":"S","c":1,"x":5.8,"y":1.5},
{"s":"S","c":2,"x":-6,"y":0},{"s":"S","c":2,"x":-5,"y":0},{"s":"S","c":2,"x":-4,"y":0.01},{"s":"S","c":2,"x":-3,"y":0.03},{"s":"S","c":2,"x":-2,"y":0.07},{"s":"S","c":2,"x":-1,"y":0.14},{"s":"S","c":2,"x":0,"y":0.23},{"s":"S","c":2,"x":1,"y":0.42},{"s":"S","c":2,"x":2,"y":0.63},{"s":"S","c":2,"x":3,"y":0.85},{"s":"S","c":2,"x":4,"y":1.07},{"s":"S","c":2,"x":5,"y":1.28},{"s":"S","c":2,"x":5.9,"y":1.5},
{"s":"S","c":3,"x":-5,"y":-0.15},{"s":"S","c":3,"x":-4,"y":-0.13},{"s":"S","c":3,"x":-3,"y":-0.11},{"s":"S","c":3,"x":-2,"y":-0.07},{"s":"S","c":3,"x":-1,"y":-0.02},{"s":"S","c":3,"x":0,"y":0.04},{"s":"S","c":3,"x":1,"y":0.18},{"s":"S","c":3,"x":2,"y":0.37},{"s":"S","c":3,"x":3,"y":0.6},{"s":"S","c":3,"x":4,"y":0.85},{"s":"S","c":3,"x":5,"y":1.1},{"s":"S","c":3,"x":5.6,"y":1.35},{"s":"S","c":3,"x":6,"y":1.5},
{"s":"S","c":4,"x":-4,"y":-0.2},{"s":"S","c":4,"x":-3,"y":-0.18},{"s":"S","c":4,"x":-2,"y":-0.15},{"s":"S","c":4,"x":-1,"y":-0.1},{"s":"S","c":4,"x":0,"y":-0.04},{"s":"S","c":4,"x":0.5,"y":0.03},{"s":"S","c":4,"x":1,"y":0.12},{"s":"S","c":4,"x":1.5,"y":0.22},{"s":"S","c":4,"x":2,"y":0.32},{"s":"S","c":4,"x":2.5,"y":0.43},{"s":"S","c":4,"x":3,"y":0.55},{"s":"S","c":4,"x":3.5,"y":0.68},
{"s":"S","c":5,"x":-4,"y":-0.19},{"s":"S","c":5,"x":-3,"y":-0.17},{"s":"S","c":5,"x":-2,"y":-0.13},{"s":"S","c":5,"x":-1,"y":-0.08},{"s":"S","c":5,"x":0,"y":-0.02},{"s":"S","c":5,"x":1,"y":0.15},{"s":"S","c":5,"x":2,"y":0.36},{"s":"S","c":5,"x":3,"y":0.6},{"s":"S","c":5,"x":3.5,"y":0.72},
{"s":"S","c":6,"x":-4,"y":-0.21},{"s":"S","c":6,"x":-3,"y":-0.19},{"s":"S","c":6,"x":-2,"y":-0.16},{"s":"S","c":6,"x":-1,"y":-0.11},{"s":"S","c":6,"x":0,"y":-0.05},{"s":"S","c":6,"x":1,"y":0.1},{"s":"S","c":6,"x":2,"y":0.29},{"s":"S","c":6,"x":3,"y":0.5}
],
"PCa33S":[
{"s":"E","c":1,"x":-5,"y":-0.5},{"s":"E","c":1,"x":-4,"y":-0.46},{"s":"E","c":1,"x":-3,"y":-0.41},{"s":"E","c":1,"x":-2,"y":-0.34},{"s":"E","c":1,"x":-1,"y":-0.26},{"s":"E","c":1,"x":0,"y":-0.18},{"s":"E","c":1,"x":1,"y":-0.08},{"s":"E","c":1,"x":2,"y":0.02},{"s":"E","c":1,"x":3,"y":0.12},{"s":"E","c":1,"x":4,"y":0.24},{"s":"E","c":1,"x":5,"y":0.4},{"s":"E","c":1,"x":5.5,"y":0.5},{"s":"E","c":1,"x":6,"y":0.65},
{"s":"E","c":2,"x":-5,"y":-0.5},{"s":"E","c":2,"x":-4,"y":-0.43},{"s":"E","c":2,"x":-3,"y":-0.36},{"s":"E","c":2,"x":-2,"y":-0.28},{"s":"E","c":2,"x":-1,"y":-0.19},{"s":"E","c":2,"x":0,"y":-0.1},{"s":"E","c":2,"x":1,"y":0.03},{"s":"E","c":2,"x":2,"y":0.17},{"s":"E","c":2,"x":3,"y":0.32},{"s":"E","c":2,"x":4,"y":0.45},{"s":"E","c":2,"x":5,"y":0.58},{"s":"E","c":2,"x":6,"y":0.75},
{"s":"E","c":3,"x":6,"y":0.75},{"s":"E","c":3,"x":5.9,"y":0.67},{"s":"E","c":3,"x":5.6,"y":0.58},{"s":"E","c":3,"x":5,"y":0.45},{"s":"E","c":3,"x":4,"y":0.3},{"s":"E","c":3,"x":3,"y":0.18},{"s":"E","c":3,"x":2,"y":0.07},{"s":"E","c":3,"x":1,"y":-0.03},{"s":"E","c":3,"x":0,"y":-0.12},{"s":"E","c":3,"x":-1,"y":-0.2},{"s":"E","c":3,"x":-2,"y":-0.28},
{"s":"E","c":4,"x":-4,"y":-0.42},{"s":"E","c":4,"x":-3,"y":-0.35},{"s":"E","c":4,"x":-2,"y":-0.27},{"s":"E","c":4,"x":-1,"y":-0.18},{"s":"E","c":4,"x":0,"y":-0.08},{"s":"E","c":4,"x":1,"y":0.06},{"s":"E","c":4,"x":2,"y":0.2},{"s":"E","c":4,"x":3,"y":0.34},{"s":"E","c":4,"x":4,"y":0.47},{"s":"E","c":4,"x":5,"y":0.6},
{"s":"E","c":5,"x":5,"y":0.6},{"s":"E","c":5,"x":4.85,"y":0.5},{"s":"E","c":5,"x":4.4,"y":0.4},{"s":"E","c":5,"x":4,"y":0.33},{"s":"E","c":5,"x":3,"y":0.2},{"s":"E","c":5,"x":2,"y":0.08},{"s":"E","c":5,"x":1,"y":-0.03},{"s":"E","c":5,"x":0,"y":-0.13},
{"s":"E","c":6,"x":0,"y":-0.12},{"s":"E","c":6,"x":1.2,"y":0.04},{"s":"E","c":6,"x":2.4,"y":0.2},{"s":"E","c":6,"x":3.4,"y":0.37},{"s":"E","c":6,"x":4,"y":0.47},{"s":"E","c":6,"x":3.8,"y":0.4},{"s":"E","c":6,"x":2.8,"y":0.22},{"s":"E","c":6,"x":1.6,"y":0.06},{"s":"E","c":6,"x":0,"y":-0.12},
{"s":"E","c":7,"x":0,"y":-0.12},{"s":"E","c":7,"x":1,"y":0.03},{"s":"E","c":7,"x":2.1,"y":0.2},{"s":"E","c":7,"x":3,"y":0.36},{"s":"E","c":7,"x":3.5,"y":0.45},{"s":"E","c":7,"x":3.3,"y":0.38},{"s":"E","c":7,"x":2.45,"y":0.22},{"s":"E","c":7,"x":1.4,"y":0.06},{"s":"E","c":7,"x":0,"y":-0.12},
{"s":"E","c":8,"x":0,"y":-0.12},{"s":"E","c":8,"x":0.9,"y":0.02},{"s":"E","c":8,"x":1.8,"y":0.18},{"s":"E","c":8,"x":2.55,"y":0.32},{"s":"E","c":8,"x":3,"y":0.41},{"s":"E","c":8,"x":2.8,"y":0.35},{"s":"E","c":8,"x":2.1,"y":0.2},{"s":"E","c":8,"x":1.2,"y":0.05},{"s":"E","c":8,"x":0,"y":-0.12},
{"s":"E","c":9,"x":0,"y":-0.12},{"s":"E","c":9,"x":0.8,"y":0.02},{"s":"E","c":9,"x":1.5,"y":0.15},{"s":"E","c":9,"x":2.1,"y":0.28},{"s":"E","c":9,"x":2.5,"y":0.37},{"s":"E","c":9,"x":2.3,"y":0.3},{"s":"E","c":9,"x":1.7,"y":0.17},{"s":"E","c":9,"x":1,"y":0.04},{"s":"E","c":9,"x":0,"y":-0.12},
{"s":"N","c":1,"x":-5,"y":-1.2},{"s":"N","c":1,"x":-4,"y":-0.98},{"s":"N","c":1,"x":-3,"y":-0.75},{"s":"N","c":1,"x":-2,"y":-0.52},{"s":"N","c":1,"x":-1,"y":-0.3},{"s":"N","c":1,"x":0,"y":-0.08},{"s":"N","c":1,"x":0.5,"y":0.07},{"s":"N","c":1,"x":1,"y":0.25},{"s":"N","c":1,"x":1.5,"y":0.48},{"s":"N","c":1,"x":2,"y":0.76},{"s":"N","c":1,"x":2.5,"y":1.05},{"s":"N","c":1,"x":3,"y":1.35},{"s":"N","c":1,"x":3.3,"y":1.55},
{"s":"N","c":2,"x":-5,"y":-1.17},{"s":"N","c":2,"x":-4,"y":-0.93},{"s":"N","c":2,"x":-3,"y":-0.7},{"s":"N","c":2,"x":-2,"y":-0.47},{"s":"N","c":2,"x":-1,"y":-0.24},{"s":"N","c":2,"x":0,"y":-0.03},{"s":"N","c":2,"x":0.5,"y":0.13},{"s":"N","c":2,"x":1,"y":0.32},{"s":"N","c":2,"x":1.5,"y":0.57},{"s":"N","c":2,"x":2,"y":0.86},{"s":"N","c":2,"x":2.5,"y":1.17},{"s":"N","c":2,"x":3,"y":1.5},
{"s":"N","c":3,"x":-4.5,"y":-1.2},{"s":"N","c":3,"x":-4,"y":-1.05},{"s":"N","c":3,"x":-3,"y":-0.8},{"s":"N","c":3,"x":-2,"y":-0.58},{"s":"N","c":3,"x":-1,"y":-0.35},{"s":"N","c":3,"x":0,"y":-0.12},{"s":"N","c":3,"x":0.5,"y":0.03},{"s":"N","c":3,"x":1,"y":0.2},{"s":"N","c":3,"x":1.5,"y":0.42},{"s":"N","c":3,"x":2,"y":0.7},{"s":"N","c":3,"x":2.5,"y":1.0},{"s":"N","c":3,"x":3,"y":1.3},{"s":"N","c":3,"x":3.35,"y":1.55},
{"s":"N","c":4,"x":-4.7,"y":-1.2},{"s":"N","c":4,"x":-4,"y":-0.9},{"s":"N","c":4,"x":-3,"y":-0.6},{"s":"N","c":4,"x":-2,"y":-0.35},{"s":"N","c":4,"x":-1,"y":-0.12},{"s":"N","c":4,"x":0,"y":0.1},{"s":"N","c":4,"x":0.5,"y":0.25},{"s":"N","c":4,"x":1,"y":0.45},{"s":"N","c":4,"x":1.5,"y":0.75},{"s":"N","c":4,"x":2,"y":1.05},{"s":"N","c":4,"x":2.5,"y":1.5},
{"s":"N","c":5,"x":-4,"y":-1.05},{"s":"N","c":5,"x":-3,"y":-0.7},{"s":"N","c":5,"x":-2,"y":-0.42},{"s":"N","c":5,"x":-1,"y":-0.18},{"s":"N","c":5,"x":0,"y":0.05},{"s":"N","c":5,"x":0.5,"y":0.2},{"s":"N","c":5,"x":1,"y":0.4},{"s":"N","c":5,"x":1.5,"y":0.68},{"s":"N","c":5,"x":2,"y":0.98},{"s":"N","c":5,"x":2.5,"y":1.3},{"s":"N","c":5,"x":2.75,"y":1.55},
{"s":"N","c":6,"x":-3,"y":-0.95},{"s":"N","c":6,"x":-2,"y":-0.6},{"s":"N","c":6,"x":-1,"y":-0.3},{"s":"N","c":6,"x":-0.5,"y":-0.15},{"s":"N","c":6,"x":0,"y":0},{"s":"N","c":6,"x":1,"y":0.3},{"s":"N","c":6,"x":2,"y":0.9},{"s":"N","c":6,"x":2.8,"y":1.55},
{"s":"S","c":1,"x":-5,"y":-0.34},{"s":"S","c":1,"x":-4,"y":-0.3},{"s":"S","c":1,"x":-3,"y":-0.25},{"s":"S","c":1,"x":-2,"y":-0.19},{"s":"S","c":1,"x":-1,"y":-0.11},{"s":"S","c":1,"x":0,"y":-0.01},{"s":"S","c":1,"x":0.5,"y":0.06},{"s":"S","c":1,"x":1,"y":0.14},{"s":"S","c":1,"x":1.5,"y":0.22},{"s":"S","c":1,"x":2,"y":0.3},{"s":"S","c":1,"x":2.5,"y":0.39},{"s":"S","c":1,"x":3,"y":0.49},{"s":"S","c":1,"x":3.5,"y":0.6},{"s":"S","c":1,"x":4,"y":0.72},{"s":"S","c":1,"x":4.5,"y":0.88},{"s":"S","c":1,"x":5,"y":1.08},{"s":"S","c":1,"x":5.5,"y":1.28},{"s":"S","c":1,"x":6,"y":1.5},
{"s":"S","c":2,"x":-5,"y":-0.32},{"s":"S","c":2,"x":-4,"y":-0.28},{"s":"S","c":2,"x":-3,"y":-0.23},{"s":"S","c":2,"x":-2,"y":-0.16},{"s":"S","c":2,"x":-1,"y":-0.08},{"s":"S","c":2,"x":0,"y":0.02},{"s":"S","c":2,"x":1,"y":0.17},{"s":"S","c":2,"x":2,"y":0.33},{"s":"S","c":2,"x":3,"y":0.52},{"s":"S","c":2,"x":4,"y":0.76},{"s":"S","c":2,"x":5,"y":1.1},
{"s":"S","c":3,"x":-5,"y":-0.36},{"s":"S","c":3,"x":-4,"y":-0.32},{"s":"S","c":3,"x":-3,"y":-0.27},{"s":"S","c":3,"x":-2,"y":-0.21},{"s":"S","c":3,"x":-1,"y":-0.13},{"s":"S","c":3,"x":0,"y":-0.03},{"s":"S","c":3,"x":1,"y":0.12},{"s":"S","c":3,"x":2,"y":0.28},{"s":"S","c":3,"x":2.5,"y":0.36},
{"s":"S","c":4,"x":-6,"y":-0.37},{"s":"S","c":4,"x":-5,"y":-0.32},{"s":"S","c":4,"x":-4,"y":-0.26},{"s":"S","c":4,"x":-3,"y":-0.19},{"s":"S","c":4,"x":-2,"y":-0.11},{"s":"S","c":4,"x":-1,"y":-0.03},{"s":"S","c":4,"x":0,"y":0.06},{"s":"S","c":4,"x":1,"y":0.2},{"s":"S","c":4,"x":2,"y":0.38},{"s":"S","c":4,"x":3,"y":0.6},{"s":"S","c":4,"x":4,"y":0.84},{"s":"S","c":4,"x":5,"y":1.14},{"s":"S","c":4,"x":6,"y":1.5},
{"s":"S","c":5,"x":-6,"y":-0.37},{"s":"S","c":5,"x":-5,"y":-0.34},{"s":"S","c":5,"x":-4,"y":-0.29},{"s":"S","c":5,"x":-3,"y":-0.23},{"s":"S","c":5,"x":-2,"y":-0.15},{"s":"S","c":5,"x":-1,"y":-0.06},{"s":"S","c":5,"x":0,"y":0.04},{"s":"S","c":5,"x":1,"y":0.18},{"s":"S","c":5,"x":2,"y":0.36},{"s":"S","c":5,"x":3,"y":0.57},{"s":"S","c":5,"x":4,"y":0.8},{"s":"S","c":5,"x":5,"y":1.1},{"s":"S","c":5,"x":5.9,"y":1.48}
],
"PCa33L":[
{"s":"E","c":1,"x":-6,"y":-0.38},{"s":"E","c":1,"x":-5,"y":-0.36},{"s":"E","c":1,"x":-4,"y":-0.33},{"s":"E","c":1,"x":-3,"y":-0.29},{"s":"E","c":1,"x":-2,"y":-0.23},{"s":"E","c":1,"x":-1,"y":-0.16},{"s":"E","c":1,"x":0,"y":-0.08},{"s":"E","c":1,"x":1,"y":0},{"s":"E","c":1,"x":2,"y":0.07},{"s":"E","c":1,"x":3,"y":0.15},{"s":"E","c":1,"x":4,"y":0.26},{"s":"E","c":1,"x":5,"y":0.4},{"s":"E","c":1,"x":5.5,"y":0.5},{"s":"E","c":1,"x":6,"y":0.62},
{"s":"E","c":2,"x":-6,"y":-0.37},{"s":"E","c":2,"x":-5,"y":-0.34},{"s":"E","c":2,"x":-4,"y":-0.3},{"s":"E","c":2,"x":-3,"y":-0.25},{"s":"E","c":2,"x":-2,"y":-0.19},{"s":"E","c":2,"x":-1,"y":-0.11},{"s":"E","c":2,"x":0,"y":-0.02},{"s":"E","c":2,"x":1,"y":0.08},{"s":"E","c":2,"x":2,"y":0.2},{"s":"E","c":2,"x":3,"y":0.32},{"s":"E","c":2,"x":4,"y":0.43},{"s":"E","c":2,"x":5,"y":0.55},{"s":"E","c":2,"x":6,"y":0.7},
{"s":"E","c":3,"x":6,"y":0.7},{"s":"E","c":3,"x":5.9,"y":0.6},{"s":"E","c":3,"x":5.5,"y":0.5},{"s":"E","c":3,"x":5,"y":0.4},
{"s":"E","c":4,"x":5,"y":0.55},{"s":"E","c":4,"x":4.8,"y":0.45},{"s":"E","c":4,"x":4.4,"y":0.38},{"s":"E","c":4,"x":4,"y":0.32},{"s":"E","c":4,"x":3,"y":0.2},{"s":"E","c":4,"x":2,"y":0.1},{"s":"E","c":4,"x":1,"y":0.02},{"s":"E","c":4,"x":0,"y":-0.06},
{"s":"E","c":5,"x":-1,"y":-0.07},{"s":"E","c":5,"x":0,"y":0},{"s":"E","c":5,"x":0.5,"y":0.1},{"s":"E","c":5,"x":1,"y":0.17},{"s":"E","c":5,"x":2,"y":0.27},{"s":"E","c":5,"x":3,"y":0.37},{"s":"E","c":5,"x":4,"y":0.44},
{"s":"E","c":6,"x":0,"y":-0.06},{"s":"E","c":6,"x":1.2,"y":0.05},{"s":"E","c":6,"x":2.4,"y":0.17},{"s":"E","c":6,"x":3.4,"y":0.33},{"s":"E","c":6,"x":4,"y":0.44},{"s":"E","c":6,"x":3.8,"y":0.37},{"s":"E","c":6,"x":2.8,"y":0.2},{"s":"E","c":6,"x":1.6,"y":0.06},{"s":"E","c":6,"x":0,"y":-0.06},
{"s":"E","c":7,"x":0,"y":-0.06},{"s":"E","c":7,"x":1,"y":0.04},{"s":"E","c":7,"x":2.1,"y":0.16},{"s":"E","c":7,"x":3,"y":0.31},{"s":"E","c":7,"x":3.5,"y":0.42},{"s":"E","c":7,"x":3.3,"y":0.35},{"s":"E","c":7,"x":2.45,"y":0.2},{"s":"E","c":7,"x":1.4,"y":0.06},{"s":"E","c":7,"x":0,"y":-0.06},
{"s":"E","c":8,"x":0,"y":-0.06},{"s":"E","c":8,"x":0.9,"y":0.04},{"s":"E","c":8,"x":1.8,"y":0.15},{"s":"E","c":8,"x":2.55,"y":0.28},{"s":"E","c":8,"x":3,"y":0.38},{"s":"E","c":8,"x":2.8,"y":0.31},{"s":"E","c":8,"x":2.1,"y":0.18},{"s":"E","c":8,"x":1.2,"y":0.05},{"s":"E","c":8,"x":0,"y":-0.06},
{"s":"E","c":9,"x":0,"y":-0.06},{"s":"E","c":9,"x":0.8,"y":0.03},{"s":"E","c":9,"x":1.5,"y":0.13},{"s":"E","c":9,"x":2.1,"y":0.25},{"s":"E","c":9,"x":2.5,"y":0.34},{"s":"E","c":9,"x":2.3,"y":0.28},{"s":"E","c":9,"x":1.7,"y":0.16},{"s":"E","c":9,"x":1,"y":0.05},{"s":"E","c":9,"x":0,"y":-0.06},
{"s":"N","c":1,"x":-5,"y":-1.2},{"s":"N","c":1,"x":-4,"y":-0.98},{"s":"N","c":1,"x":-3,"y":-0.76},{"s":"N","c":1,"x":-2,"y":-0.53},{"s":"N","c":1,"x":-1,"y":-0.3},{"s":"N","c":1,"x":0,"y":-0.08},{"s":"N","c":1,"x":0.5,"y":0.07},{"s":"N","c":1,"x":1,"y":0.25},{"s":"N","c":1,"x":1.5,"y":0.48},{"s":"N","c":1,"x":2,"y":0.76},{"s":"N","c":1,"x":2.5,"y":1.07},{"s":"N","c":1,"x":3,"y":1.38},{"s":"N","c":1,"x":3.25,"y":1.55},
{"s":"N","c":2,"x":-4.8,"y":-1.2},{"s":"N","c":2,"x":-4,"y":-0.93},{"s":"N","c":2,"x":-3,"y":-0.7},{"s":"N","c":2,"x":-2,"y":-0.47},{"s":"N","c":2,"x":-1,"y":-0.24},{"s":"N","c":2,"x":0,"y":-0.03},{"s":"N","c":2,"x":0.5,"y":0.13},{"s":"N","c":2,"x":1,"y":0.33},{"s":"N","c":2,"x":1.5,"y":0.58},{"s":"N","c":2,"x":2,"y":0.88},{"s":"N","c":2,"x":2.5,"y":1.2},{"s":"N","c":2,"x":2.95,"y":1.55},
{"s":"N","c":3,"x":-4.5,"y":-1.2},{"s":"N","c":3,"x":-4,"y":-1.05},{"s":"N","c":3,"x":-3,"y":-0.8},{"s":"N","c":3,"x":-2,"y":-0.58},{"s":"N","c":3,"x":-1,"y":-0.35},{"s":"N","c":3,"x":0,"y":-0.12},{"s":"N","c":3,"x":0.5,"y":0.03},{"s":"N","c":3,"x":1,"y":0.2},{"s":"N","c":3,"x":1.5,"y":0.43},{"s":"N","c":3,"x":2,"y":0.7},{"s":"N","c":3,"x":2.5,"y":1.0},{"s":"N","c":3,"x":3,"y":1.32},{"s":"N","c":3,"x":3.3,"y":1.55},
{"s":"N","c":4,"x":-4.4,"y":-1.0},{"s":"N","c":4,"x":-3,"y":-0.6},{"s":"N","c":4,"x":-2,"y":-0.35},{"s":"N","c":4,"x":-1,"y":-0.12},{"s":"N","c":4,"x":0,"y":0.08},{"s":"N","c":4,"x":0.5,"y":0.22},{"s":"N","c":4,"x":1,"y":0.42},{"s":"N","c":4,"x":1.5,"y":0.72},{"s":"N","c":4,"x":2,"y":1.02},{"s":"N","c":4,"x":2.5,"y":1.38},{"s":"N","c":4,"x":2.7,"y":1.55},
{"s":"N","c":5,"x":-3.5,"y":-0.95},{"s":"N","c":5,"x":-2.5,"y":-0.6},{"s":"N","c":5,"x":-1.5,"y":-0.3},{"s":"N","c":5,"x":-0.5,"y":-0.1},{"s":"N","c":5,"x":0,"y":0.02},{"s":"N","c":5,"x":1,"y":0.35},{"s":"N","c":5,"x":2,"y":0.95},{"s":"N","c":5,"x":2.8,"y":1.55},
{"s":"S","c":1,"x":-6,"y":-0.33},{"s":"S","c":1,"x":-5,"y":-0.3},{"s":"S","c":1,"x":-4,"y":-0.26},{"s":"S","c":1,"x":-3,"y":-0.21},{"s":"S","c":1,"x":-2,"y":-0.15},{"s":"S","c":1,"x":-1,"y":-0.08},{"s":"S","c":1,"x":0,"y":0},{"s":"S","c":1,"x":1,"y":0.13},{"s":"S","c":1,"x":2,"y":0.3},{"s":"S","c":1,"x":3,"y":0.5},{"s":"S","c":1,"x":4,"y":0.72},{"s":"S","c":1,"x":5,"y":0.96},{"s":"S","c":1,"x":6,"y":1.22},
{"s":"S","c":2,"x":-6,"y":-0.32},{"s":"S","c":2,"x":-5,"y":-0.28},{"s":"S","c":2,"x":-4,"y":-0.24},{"s":"S","c":2,"x":-3,"y":-0.18},{"s":"S","c":2,"x":-2,"y":-0.12},{"s":"S","c":2,"x":-1,"y":-0.04},{"s":"S","c":2,"x":0,"y":0.05},{"s":"S","c":2,"x":1,"y":0.18},{"s":"S","c":2,"x":2,"y":0.36},{"s":"S","c":2,"x":3,"y":0.58},{"s":"S","c":2,"x":4,"y":0.83},{"s":"S","c":2,"x":5,"y":1.05},
{"s":"S","c":3,"x":-5,"y":-0.31},{"s":"S","c":3,"x":-4,"y":-0.27},{"s":"S","c":3,"x":-3,"y":-0.22},{"s":"S","c":3,"x":-2,"y":-0.16},{"s":"S","c":3,"x":-1,"y":-0.09},{"s":"S","c":3,"x":0,"y":-0.01},{"s":"S","c":3,"x":1,"y":0.12},{"s":"S","c":3,"x":2,"y":0.28},{"s":"S","c":3,"x":3,"y":0.46},{"s":"S","c":3,"x":3.5,"y":0.56},
{"s":"S","c":4,"x":-6,"y":-0.33},{"s":"S","c":4,"x":-5,"y":-0.27},{"s":"S","c":4,"x":-4,"y":-0.21},{"s":"S","c":4,"x":-3,"y":-0.14},{"s":"S","c":4,"x":-2,"y":-0.07},{"s":"S","c":4,"x":-1,"y":0.01},{"s":"S","c":4,"x":0,"y":0.09},{"s":"S","c":4,"x":1,"y":0.23},{"s":"S","c":4,"x":2,"y":0.42},{"s":"S","c":4,"x":3,"y":0.62},{"s":"S","c":4,"x":4,"y":0.82},{"s":"S","c":4,"x":5,"y":1.02},{"s":"S","c":4,"x":6,"y":1.22}
]
},
"vconcat":[
{"hconcat":[
{"width":369,"height":286,"layer":[
{"data":{"values":[{}]},"mark":{"type":"rule","color":"#000000","strokeWidth":1.5},"encoding":{"x":{"datum":0,"type":"quantitative","scale":{"domain":[-6,6],"nice":false,"zero":false}}}},
{"data":{"values":[{}]},"mark":{"type":"rule","color":"#000000","strokeWidth":1.5},"encoding":{"y":{"datum":0,"type":"quantitative","scale":{"domain":[-1.2,1.5],"nice":false,"zero":false}}}},
{"data":{"name":"C20S"},"mark":{"type":"line","clip":true,"strokeWidth":1.7},"encoding":{
"x":{"field":"x","type":"quantitative","scale":{"domain":[-6,6],"nice":false,"zero":false},"axis":{"values":[-6,-5,-4,-3,-2,-1,0,1,2,3,4,5,6],"tickCount":13,"labels":false,"title":null}},
"y":{"field":"y","type":"quantitative","scale":{"domain":[-1.2,1.5],"nice":false,"zero":false},"axis":{"values":[-1.2,-0.9,-0.6,-0.3,0,0.3,0.6,0.9,1.2,1.5],"tickCount":10,"title":"Strain (%)"}},
"color":{"field":"s","type":"nominal","scale":{"domain":["E","N","S"],"range":["#000000","#00B0F0","#FF0000"]},"legend":{"title":null,"orient":"none","legendX":162,"legendY":197,"labelExpr":"datum.label == 'E' ? 'Experiment' : datum.label == 'N' ? 'No-slip analysis' : 'Slip analysis'"}},
"strokeDash":{"field":"s","type":"nominal","scale":{"domain":["E","N","S"],"range":[[1,0],[14,5,2,5],[5,2.5]]},"legend":{"title":null,"orient":"none","legendX":162,"legendY":197,"labelExpr":"datum.label == 'E' ? 'Experiment' : datum.label == 'N' ? 'No-slip analysis' : 'Slip analysis'"}},
"detail":{"field":"c","type":"nominal"},
"order":{"value":null}}},
{"data":{"values":[{"strain":0.85}]},"mark":{"type":"rule","color":"#FF0000","strokeWidth":3,"strokeDash":[20,9]},"encoding":{"x":{"datum":-5.9,"type":"quantitative","scale":{"domain":[-6,6],"nice":false,"zero":false}},"x2":{"datum":6.97},"y":{"field":"strain","type":"quantitative","scale":{"domain":[-1.2,1.5],"nice":false,"zero":false}}}},
{"data":{"values":[{"name":"C20S"}]},"mark":{"type":"text","align":"left","baseline":"middle","fontSize":23.5,"color":"#000000"},"encoding":{"x":{"datum":-4.89,"type":"quantitative","scale":{"domain":[-6,6],"nice":false,"zero":false}},"y":{"datum":1.14,"type":"quantitative","scale":{"domain":[-1.2,1.5],"nice":false,"zero":false}},"text":{"field":"name"}}}
]},
{"width":368,"height":286,"layer":[
{"data":{"values":[{}]},"mark":{"type":"rule","color":"#000000","strokeWidth":1.5},"encoding":{"x":{"datum":0,"type":"quantitative","scale":{"domain":[-6,6],"nice":false,"zero":false}}}},
{"data":{"values":[{}]},"mark":{"type":"rule","color":"#000000","strokeWidth":1.5},"encoding":{"y":{"datum":0,"type":"quantitative","scale":{"domain":[-1.2,1.5],"nice":false,"zero":false}}}},
{"data":{"name":"C20L"},"mark":{"type":"line","clip":true,"strokeWidth":1.7},"encoding":{
"x":{"field":"x","type":"quantitative","scale":{"domain":[-6,6],"nice":false,"zero":false},"axis":{"values":[-6,-5,-4,-3,-2,-1,0,1,2,3,4,5,6],"tickCount":13,"labels":false,"title":null}},
"y":{"field":"y","type":"quantitative","scale":{"domain":[-1.2,1.5],"nice":false,"zero":false},"axis":{"values":[-1.2,-0.9,-0.6,-0.3,0,0.3,0.6,0.9,1.2,1.5],"tickCount":10,"labels":false,"title":null}},
"color":{"field":"s","type":"nominal","scale":{"domain":["E","N","S"],"range":["#000000","#00B0F0","#FF0000"]},"legend":{"title":null,"orient":"none","legendX":162,"legendY":197,"labelExpr":"datum.label == 'E' ? 'Experiment' : datum.label == 'N' ? 'No-slip analysis' : 'Slip analysis'"}},
"strokeDash":{"field":"s","type":"nominal","scale":{"domain":["E","N","S"],"range":[[1,0],[14,5,2,5],[5,2.5]]},"legend":{"title":null,"orient":"none","legendX":162,"legendY":197,"labelExpr":"datum.label == 'E' ? 'Experiment' : datum.label == 'N' ? 'No-slip analysis' : 'Slip analysis'"}},
"detail":{"field":"c","type":"nominal"},
"order":{"value":null}}},
{"data":{"values":[{"strain":0.85}]},"mark":{"type":"rule","color":"#FF0000","strokeWidth":3,"strokeDash":[20,9]},"encoding":{"x":{"datum":-6,"type":"quantitative","scale":{"domain":[-6,6],"nice":false,"zero":false}},"x2":{"datum":6.97},"y":{"field":"strain","type":"quantitative","scale":{"domain":[-1.2,1.5],"nice":false,"zero":false}}}},
{"data":{"values":[{"name":"C20L"}]},"mark":{"type":"text","align":"left","baseline":"middle","fontSize":23.5,"color":"#000000"},"encoding":{"x":{"datum":-4.97,"type":"quantitative","scale":{"domain":[-6,6],"nice":false,"zero":false}},"y":{"datum":1.16,"type":"quantitative","scale":{"domain":[-1.2,1.5],"nice":false,"zero":false}},"text":{"field":"name"}}},
{"data":{"values":[{}]},"mark":{"type":"text","align":"left","baseline":"top","fontSize":24,"lineHeight":29.3,"color":"#FF0000"},"encoding":{"x":{"datum":-5.57,"type":"quantitative","scale":{"domain":[-6,6],"nice":false,"zero":false}},"y":{"datum":0.528,"type":"quantitative","scale":{"domain":[-1.2,1.5],"nice":false,"zero":false}},"text":{"value":["Yield strain of","SBPDN rebar"]}}},
{"data":{"values":[{}]},"mark":{"type":"rule","color":"#FF0000","strokeWidth":2},"encoding":{"x":{"datum":-1.82,"type":"quantitative","scale":{"domain":[-6,6],"nice":false,"zero":false}},"y":{"datum":0.47,"type":"quantitative","scale":{"domain":[-1.2,1.5],"nice":false,"zero":false}},"x2":{"datum":-1.12},"y2":{"datum":0.776}}},
{"data":{"values":[{}]},"mark":{"type":"point","shape":"triangle-up","size":150,"filled":true,"opacity":1,"color":"#FF0000","angle":32},"encoding":{"x":{"datum":-1.12,"type":"quantitative","scale":{"domain":[-6,6],"nice":false,"zero":false}},"y":{"datum":0.776,"type":"quantitative","scale":{"domain":[-1.2,1.5],"nice":false,"zero":false}}}}
]},
{"width":368,"height":286,"layer":[
{"data":{"values":[{}]},"mark":{"type":"rule","color":"#000000","strokeWidth":1.5},"encoding":{"x":{"datum":0,"type":"quantitative","scale":{"domain":[-6,6],"nice":false,"zero":false}}}},
{"data":{"values":[{}]},"mark":{"type":"rule","color":"#000000","strokeWidth":1.5},"encoding":{"y":{"datum":0,"type":"quantitative","scale":{"domain":[-1.2,1.5],"nice":false,"zero":false}}}},
{"data":{"name":"PCa20S"},"mark":{"type":"line","clip":true,"strokeWidth":1.7},"encoding":{
"x":{"field":"x","type":"quantitative","scale":{"domain":[-6,6],"nice":false,"zero":false},"axis":{"values":[-6,-5,-4,-3,-2,-1,0,1,2,3,4,5,6],"tickCount":13,"labels":false,"title":null}},
"y":{"field":"y","type":"quantitative","scale":{"domain":[-1.2,1.5],"nice":false,"zero":false},"axis":{"values":[-1.2,-0.9,-0.6,-0.3,0,0.3,0.6,0.9,1.2,1.5],"tickCount":10,"labels":false,"title":null}},
"color":{"field":"s","type":"nominal","scale":{"domain":["E","N","S"],"range":["#000000","#00B0F0","#FF0000"]},"legend":{"title":null,"orient":"none","legendX":162,"legendY":197,"labelExpr":"datum.label == 'E' ? 'Experiment' : datum.label == 'N' ? 'No-slip analysis' : 'Slip analysis'"}},
"strokeDash":{"field":"s","type":"nominal","scale":{"domain":["E","N","S"],"range":[[1,0],[14,5,2,5],[5,2.5]]},"legend":{"title":null,"orient":"none","legendX":162,"legendY":197,"labelExpr":"datum.label == 'E' ? 'Experiment' : datum.label == 'N' ? 'No-slip analysis' : 'Slip analysis'"}},
"detail":{"field":"c","type":"nominal"},
"order":{"value":null}}},
{"data":{"values":[{"strain":0.85}]},"mark":{"type":"rule","color":"#FF0000","strokeWidth":3,"strokeDash":[20,9]},"encoding":{"x":{"datum":-6,"type":"quantitative","scale":{"domain":[-6,6],"nice":false,"zero":false}},"x2":{"datum":6},"y":{"field":"strain","type":"quantitative","scale":{"domain":[-1.2,1.5],"nice":false,"zero":false}}}},
{"data":{"values":[{"name":"PCa20S"}]},"mark":{"type":"text","align":"left","baseline":"middle","fontSize":23.5,"color":"#000000"},"encoding":{"x":{"datum":-4.75,"type":"quantitative","scale":{"domain":[-6,6],"nice":false,"zero":false}},"y":{"datum":1.17,"type":"quantitative","scale":{"domain":[-1.2,1.5],"nice":false,"zero":false}},"text":{"field":"name"}}}
]}
],"spacing":30,"bounds":"flush","resolve":{"scale":{"color":"independent","strokeDash":"independent"},"legend":{"color":"independent","strokeDash":"independent"}}},
{"hconcat":[
{"width":369,"height":281,"layer":[
{"data":{"values":[{}]},"mark":{"type":"rule","color":"#000000","strokeWidth":1.5},"encoding":{"x":{"datum":0,"type":"quantitative","scale":{"domain":[-6,6],"nice":false,"zero":false}}}},
{"data":{"values":[{}]},"mark":{"type":"rule","color":"#000000","strokeWidth":1.5},"encoding":{"y":{"datum":0,"type":"quantitative","scale":{"domain":[-1.2,1.5],"nice":false,"zero":false}}}},
{"data":{"name":"PCa20L"},"mark":{"type":"line","clip":true,"strokeWidth":1.7},"encoding":{
"x":{"field":"x","type":"quantitative","scale":{"domain":[-6,6],"nice":false,"zero":false},"axis":{"values":[-6,-5,-4,-3,-2,-1,0,1,2,3,4,5,6],"tickCount":13,"title":"Drift angle (×0.01rad)"}},
"y":{"field":"y","type":"quantitative","scale":{"domain":[-1.2,1.5],"nice":false,"zero":false},"axis":{"values":[-1.2,-0.9,-0.6,-0.3,0,0.3,0.6,0.9,1.2,1.5],"tickCount":10,"title":"Strain (%)"}},
"color":{"field":"s","type":"nominal","scale":{"domain":["E","N","S"],"range":["#000000","#00B0F0","#FF0000"]},"legend":{"title":null,"orient":"none","legendX":162,"legendY":191,"labelExpr":"datum.label == 'E' ? 'Experiment' : datum.label == 'N' ? 'No-slip analysis' : 'Slip analysis'"}},
"strokeDash":{"field":"s","type":"nominal","scale":{"domain":["E","N","S"],"range":[[1,0],[14,5,2,5],[5,2.5]]},"legend":{"title":null,"orient":"none","legendX":162,"legendY":191,"labelExpr":"datum.label == 'E' ? 'Experiment' : datum.label == 'N' ? 'No-slip analysis' : 'Slip analysis'"}},
"detail":{"field":"c","type":"nominal"},
"order":{"value":null}}},
{"data":{"values":[{"strain":0.85}]},"mark":{"type":"rule","color":"#FF0000","strokeWidth":3,"strokeDash":[20,9]},"encoding":{"x":{"datum":-5.9,"type":"quantitative","scale":{"domain":[-6,6],"nice":false,"zero":false}},"x2":{"datum":6.97},"y":{"field":"strain","type":"quantitative","scale":{"domain":[-1.2,1.5],"nice":false,"zero":false}}}},
{"data":{"values":[{"name":"PCa20L"}]},"mark":{"type":"text","align":"left","baseline":"middle","fontSize":23.5,"color":"#000000"},"encoding":{"x":{"datum":-4.82,"type":"quantitative","scale":{"domain":[-6,6],"nice":false,"zero":false}},"y":{"datum":1.16,"type":"quantitative","scale":{"domain":[-1.2,1.5],"nice":false,"zero":false}},"text":{"field":"name"}}}
]},
{"width":368,"height":281,"layer":[
{"data":{"values":[{}]},"mark":{"type":"rule","color":"#000000","strokeWidth":1.5},"encoding":{"x":{"datum":0,"type":"quantitative","scale":{"domain":[-6,6],"nice":false,"zero":false}}}},
{"data":{"values":[{}]},"mark":{"type":"rule","color":"#000000","strokeWidth":1.5},"encoding":{"y":{"datum":0,"type":"quantitative","scale":{"domain":[-1.2,1.5],"nice":false,"zero":false}}}},
{"data":{"name":"PCa33S"},"mark":{"type":"line","clip":true,"strokeWidth":1.7},"encoding":{
"x":{"field":"x","type":"quantitative","scale":{"domain":[-6,6],"nice":false,"zero":false},"axis":{"values":[-6,-5,-4,-3,-2,-1,0,1,2,3,4,5,6],"tickCount":13,"title":"Drift angle (×0.01rad)"}},
"y":{"field":"y","type":"quantitative","scale":{"domain":[-1.2,1.5],"nice":false,"zero":false},"axis":{"values":[-1.2,-0.9,-0.6,-0.3,0,0.3,0.6,0.9,1.2,1.5],"tickCount":10,"labels":false,"title":null}},
"color":{"field":"s","type":"nominal","scale":{"domain":["E","N","S"],"range":["#000000","#00B0F0","#FF0000"]},"legend":{"title":null,"orient":"none","legendX":162,"legendY":191,"labelExpr":"datum.label == 'E' ? 'Experiment' : datum.label == 'N' ? 'No-slip analysis' : 'Slip analysis'"}},
"strokeDash":{"field":"s","type":"nominal","scale":{"domain":["E","N","S"],"range":[[1,0],[14,5,2,5],[5,2.5]]},"legend":{"title":null,"orient":"none","legendX":162,"legendY":191,"labelExpr":"datum.label == 'E' ? 'Experiment' : datum.label == 'N' ? 'No-slip analysis' : 'Slip analysis'"}},
"detail":{"field":"c","type":"nominal"},
"order":{"value":null}}},
{"data":{"values":[{"strain":0.85}]},"mark":{"type":"rule","color":"#FF0000","strokeWidth":3,"strokeDash":[20,9]},"encoding":{"x":{"datum":-6,"type":"quantitative","scale":{"domain":[-6,6],"nice":false,"zero":false}},"x2":{"datum":6.97},"y":{"field":"strain","type":"quantitative","scale":{"domain":[-1.2,1.5],"nice":false,"zero":false}}}},
{"data":{"values":[{"name":"PCa33S"}]},"mark":{"type":"text","align":"left","baseline":"middle","fontSize":23.5,"color":"#000000"},"encoding":{"x":{"datum":-4.86,"type":"quantitative","scale":{"domain":[-6,6],"nice":false,"zero":false}},"y":{"datum":1.18,"type":"quantitative","scale":{"domain":[-1.2,1.5],"nice":false,"zero":false}},"text":{"field":"name"}}},
{"data":{"values":[{}]},"mark":{"type":"text","align":"left","baseline":"top","fontSize":24,"lineHeight":27.5,"color":"#FF0000"},"encoding":{"x":{"datum":-5.62,"type":"quantitative","scale":{"domain":[-6,6],"nice":false,"zero":false}},"y":{"datum":0.523,"type":"quantitative","scale":{"domain":[-1.2,1.5],"nice":false,"zero":false}},"text":{"value":["Yield strain of","SBPDN rebar"]}}},
{"data":{"values":[{}]},"mark":{"type":"rule","color":"#FF0000","strokeWidth":2},"encoding":{"x":{"datum":-1.87,"type":"quantitative","scale":{"domain":[-6,6],"nice":false,"zero":false}},"y":{"datum":0.46,"type":"quantitative","scale":{"domain":[-1.2,1.5],"nice":false,"zero":false}},"x2":{"datum":-1.19},"y2":{"datum":0.78}}},
{"data":{"values":[{}]},"mark":{"type":"point","shape":"triangle-up","size":150,"filled":true,"opacity":1,"color":"#FF0000","angle":32},"encoding":{"x":{"datum":-1.19,"type":"quantitative","scale":{"domain":[-6,6],"nice":false,"zero":false}},"y":{"datum":0.78,"type":"quantitative","scale":{"domain":[-1.2,1.5],"nice":false,"zero":false}}}}
]},
{"width":368,"height":281,"layer":[
{"data":{"values":[{}]},"mark":{"type":"rule","color":"#000000","strokeWidth":1.5},"encoding":{"x":{"datum":0,"type":"quantitative","scale":{"domain":[-6,6],"nice":false,"zero":false}}}},
{"data":{"values":[{}]},"mark":{"type":"rule","color":"#000000","strokeWidth":1.5},"encoding":{"y":{"datum":0,"type":"quantitative","scale":{"domain":[-1.2,1.5],"nice":false,"zero":false}}}},
{"data":{"name":"PCa33L"},"mark":{"type":"line","clip":true,"strokeWidth":1.7},"encoding":{
"x":{"field":"x","type":"quantitative","scale":{"domain":[-6,6],"nice":false,"zero":false},"axis":{"values":[-6,-5,-4,-3,-2,-1,0,1,2,3,4,5,6],"tickCount":13,"title":"Drift angle (×0.01rad)"}},
"y":{"field":"y","type":"quantitative","scale":{"domain":[-1.2,1.5],"nice":false,"zero":false},"axis":{"values":[-1.2,-0.9,-0.6,-0.3,0,0.3,0.6,0.9,1.2,1.5],"tickCount":10,"labels":false,"title":null}},
"color":{"field":"s","type":"nominal","scale":{"domain":["E","N","S"],"range":["#000000","#00B0F0","#FF0000"]},"legend":{"title":null,"orient":"none","legendX":162,"legendY":191,"labelExpr":"datum.label == 'E' ? 'Experiment' : datum.label == 'N' ? 'No-slip analysis' : 'Slip analysis'"}},
"strokeDash":{"field":"s","type":"nominal","scale":{"domain":["E","N","S"],"range":[[1,0],[14,5,2,5],[5,2.5]]},"legend":{"title":null,"orient":"none","legendX":162,"legendY":191,"labelExpr":"datum.label == 'E' ? 'Experiment' : datum.label == 'N' ? 'No-slip analysis' : 'Slip analysis'"}},
"detail":{"field":"c","type":"nominal"},
"order":{"value":null}}},
{"data":{"values":[{"strain":0.85}]},"mark":{"type":"rule","color":"#FF0000","strokeWidth":3,"strokeDash":[20,9]},"encoding":{"x":{"datum":-6,"type":"quantitative","scale":{"domain":[-6,6],"nice":false,"zero":false}},"x2":{"datum":6},"y":{"field":"strain","type":"quantitative","scale":{"domain":[-1.2,1.5],"nice":false,"zero":false}}}},
{"data":{"values":[{"name":"PCa33L"}]},"mark":{"type":"text","align":"left","baseline":"middle","fontSize":23.5,"color":"#000000"},"encoding":{"x":{"datum":-4.77,"type":"quantitative","scale":{"domain":[-6,6],"nice":false,"zero":false}},"y":{"datum":1.16,"type":"quantitative","scale":{"domain":[-1.2,1.5],"nice":false,"zero":false}},"text":{"field":"name"}}}
]}
],"spacing":30,"bounds":"flush","resolve":{"scale":{"color":"independent","strokeDash":"independent"},"legend":{"color":"independent","strokeDash":"independent"}}}
],
"resolve":{"scale":{"color":"independent","strokeDash":"independent"},"legend":{"color":"independent","strokeDash":"independent"}}
}
